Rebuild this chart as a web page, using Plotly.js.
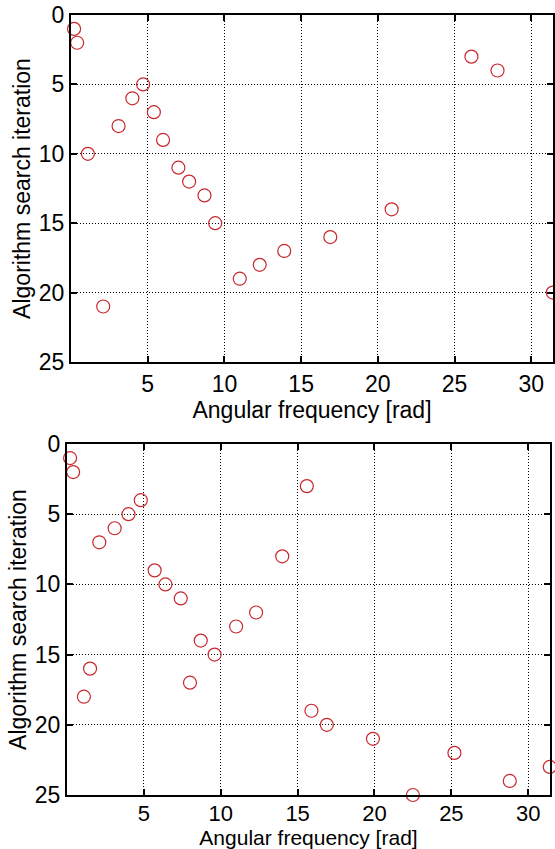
<!DOCTYPE html>
<html>
<head>
<meta charset="utf-8">
<script src="https://cdn.plot.ly/plotly-3.0.1.min.js"></script>
<style>html,body{margin:0;padding:0;background:#fff;}#chart{width:555px;height:849px;}</style>
</head>
<body>
<div id="chart"></div>
<script>
// Top panel: angular frequency chosen at each search iteration
const topIter = [1,2,3,4,5,6,7,8,9,10,11,12,13,14,15,16,17,18,19,20,21];
const topFreq = [0.2,0.4,26.1,27.8,4.7,4.0,5.4,3.1,6.0,1.1,7.0,7.7,8.7,20.9,9.4,16.9,13.9,12.3,11.0,31.4,2.1];
// Bottom panel
const botIter = [1,2,3,4,5,6,7,8,9,10,11,12,13,14,15,16,17,18,19,20,21,22,23,24,25];
const botFreq = [0.2,0.4,15.6,4.8,4.0,3.1,2.1,14.0,5.7,6.4,7.4,12.3,11.0,8.7,9.6,1.5,8.0,1.1,15.9,16.9,19.9,25.2,31.4,28.8,22.5];
const xTicks = [5,10,15,20,25,30];
const yTicks = [0,5,10,15,20,25];
const xTitle = 'Angular frequency [rad]';
const yTitle = 'Algorithm search iteration';

const markerStyle = {symbol:'circle-open', size:13, color:'#c8282d', line:{width:1.2, color:'#c8282d'}};
const traces = [
  {x: topFreq, y: topIter, mode:'markers', type:'scatter', marker: markerStyle, xaxis:'x', yaxis:'y', cliponaxis:false},
  {x: botFreq, y: botIter, mode:'markers', type:'scatter', marker: markerStyle, xaxis:'x2', yaxis:'y2', cliponaxis:false}
];
const fontFam = '"Liberation Sans", Arial, sans-serif';
function xax(domain, anchor, tickSize, titleSize, standoff, labelShift){
  return {domain: domain, anchor: anchor, range:[0, 10*Math.PI], tickvals: xTicks, ticktext: xTicks.map(String),
    showgrid:true, gridcolor:'#000', griddash:'1px,2px', gridwidth:1, zeroline:false,
    showline:true, linecolor:'#000', linewidth:2, mirror:'allticks', ticks:'inside', ticklen:6, tickwidth:2, tickcolor:'#000',
    tickfont:{family:fontFam, size:tickSize, color:'#000'}, ticklabelstandoff: labelShift,
    title:{text:xTitle, font:{family:fontFam, size:titleSize, color:'#000'}, standoff:standoff}, automargin:false};
}
function yax(domain, anchor){
  return {domain: domain, anchor: anchor, range:[25,0], tickvals: yTicks, ticktext: yTicks.map(String),
    showgrid:true, gridcolor:'#000', griddash:'1px,2px', gridwidth:1, zeroline:false,
    showline:true, linecolor:'#000', linewidth:2, mirror:'allticks', ticks:'inside', ticklen:6, tickwidth:2, tickcolor:'#000',
    tickfont:{family:fontFam, size:23, color:'#000'},
    title:{text:yTitle, font:{family:fontFam, size:23, color:'#000'}, standoff:2}, automargin:false};
}
const layout = {
  width:555, height:849, showlegend:false,
  margin:{l:0, r:0, t:0, b:0},
  paper_bgcolor:'#fff', plot_bgcolor:'#fff',
  xaxis: xax([71/555, 553/555], 'y', 23, 23, 0, 0),
  yaxis: yax([487/849, 834/849], 'x'),
  xaxis2: xax([67/555, 550/555], 'y2', 22, 21, 4, -2),
  yaxis2: yax([54/849, 405/849], 'x2')
};
Plotly.newPlot('chart', traces, layout, {staticPlot:true, displayModeBar:false});
</script>
</body>
</html>
